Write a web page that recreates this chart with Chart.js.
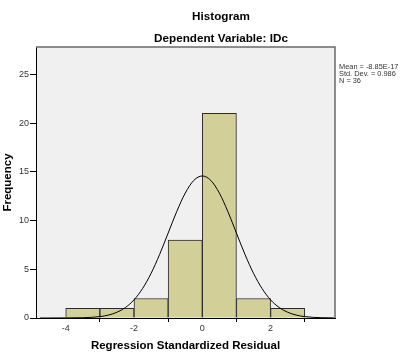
<!DOCTYPE html>
<html>
<head>
<meta charset="utf-8">
<title>Histogram</title>
<script src="https://cdn.jsdelivr.net/npm/chart.js@4"></script>
<style>
  html, body { margin: 0; padding: 0; background: #fff; }
  #wrap { width: 407px; height: 354px; }
</style>
</head>
<body>
<div id="wrap"><canvas id="histChart" width="407" height="354"></canvas></div>
<script>
// histogram bins (bin centre, width 1)
const binCenters = [-3.5, -2.5, -1.5, -0.5, 0.5, 1.5, 2.5];
const frequencies = [1, 1, 2, 8, 21, 2, 1];

// normal curve
const curveX = [-4.75, -4.5, -4, -3.5, -3, -2.75, -2.5, -2.25, -2, -1.75, -1.5, -1.25, -1, -0.75, -0.5, -0.25,
    0, 0.25, 0.5, 0.75, 1, 1.25, 1.5, 1.75, 2, 2.25, 2.5, 2.75, 3, 3.5, 3.85];
const curveY = [0, 0, 0.01, 0.03, 0.14, 0.30, 0.59, 1.08, 1.86, 3.02, 4.58, 6.52, 8.71, 10.91, 12.81, 14.11,
    14.57, 14.11, 12.81, 10.91, 8.71, 6.52, 4.58, 3.02, 1.86, 1.08, 0.59, 0.30, 0.14, 0.03, 0.01];

const xTicks = [-4, -2, 0, 2];
const yTicks = [0, 5, 10, 15, 20, 25];

const chartTitle = 'Histogram';
const chartSubtitle = 'Dependent Variable: IDc';
const statsLines = ['Mean = -8.85E-17', 'Std. Dev. = 0.986', 'N = 36'];

const FONT = '"Liberation Sans", Arial, sans-serif';

const framePlugin = {
    id: 'frame',
    beforeDraw(chart) {
        const { ctx, chartArea: a } = chart;
        ctx.save();
        ctx.fillStyle = '#f0f0f0';
        ctx.fillRect(a.left, a.top, a.right - a.left, a.bottom - a.top);
        ctx.restore();
    },
    afterDraw(chart) {
        const { ctx, chartArea: a } = chart;
        ctx.save();
        ctx.strokeStyle = '#6a6a6a';
        ctx.lineWidth = 1.5;
        ctx.beginPath();
        ctx.moveTo(a.left, a.top);
        ctx.lineTo(a.right, a.top);
        ctx.lineTo(a.right, a.bottom);
        ctx.stroke();

        ctx.fillStyle = '#000';
        ctx.textAlign = 'center';
        ctx.textBaseline = 'alphabetic';
        ctx.font = 'bold 11.7px ' + FONT;
        ctx.fillText(chartTitle, 221, 20);
        ctx.fillText(chartSubtitle, 221, 42);

        ctx.fillStyle = '#333';
        ctx.textAlign = 'left';
        ctx.font = '7.4px ' + FONT;
        statsLines.forEach((s, i) => ctx.fillText(s, 339, 69 + i * 7.2));
        ctx.restore();
    }
};

const ctx = document.getElementById('histChart').getContext('2d');
new Chart(ctx, {
    type: 'bar',
    data: {
        datasets: [
            {
                type: 'line',
                data: curveX.map((x, i) => ({ x: x, y: curveY[i] })),
                borderColor: '#000',
                borderWidth: 1,
                pointRadius: 0,
                cubicInterpolationMode: 'monotone',
                order: 0
            },
            {
                type: 'bar',
                data: binCenters.map((x, i) => ({ x: x, y: frequencies[i] })),
                backgroundColor: '#d3cf98',
                borderColor: '#2b2b2b',
                borderWidth: 1,
                barPercentage: 1,
                categoryPercentage: 1,
                order: 1
            }
        ]
    },
    options: {
        responsive: false,
        animation: false,
        devicePixelRatio: 1,
        layout: { padding: { top: 47, right: 72, left: 0, bottom: 0 } },
        plugins: { legend: { display: false }, tooltip: { enabled: false } },
        scales: {
            x: {
                type: 'linear',
                min: -4.87,
                max: 3.886,
                offset: false,
                afterFit: s => { s.height = 36; },
                afterBuildTicks: s => { s.ticks = xTicks.map(v => ({ value: v })); },
                grid: { drawOnChartArea: false, tickLength: 4, color: '#000' },
                border: { color: '#000', width: 1 },
                ticks: { color: '#333', font: { family: FONT, size: 9 }, padding: 1, maxRotation: 0 },
                title: {
                    display: true,
                    text: 'Regression Standardized Residual',
                    color: '#000',
                    font: { family: FONT, size: 11.5, weight: 'bold' },
                    padding: { top: 0, bottom: 1.5 }
                }
            },
            y: {
                min: 0,
                max: 27.8,
                afterFit: s => { s.width = 36; },
                afterBuildTicks: s => { s.ticks = yTicks.map(v => ({ value: v })); },
                grid: { drawOnChartArea: false, tickLength: 6, color: '#000' },
                border: { color: '#000', width: 1 },
                ticks: { color: '#333', font: { family: FONT, size: 9 }, padding: 1 },
                title: {
                    display: true,
                    text: 'Frequency',
                    color: '#000',
                    font: { family: FONT, size: 11.5, weight: 'bold' },
                    padding: { top: 1, bottom: 0 }
                }
            }
        }
    },
    plugins: [framePlugin]
});
</script>
</body>
</html>
